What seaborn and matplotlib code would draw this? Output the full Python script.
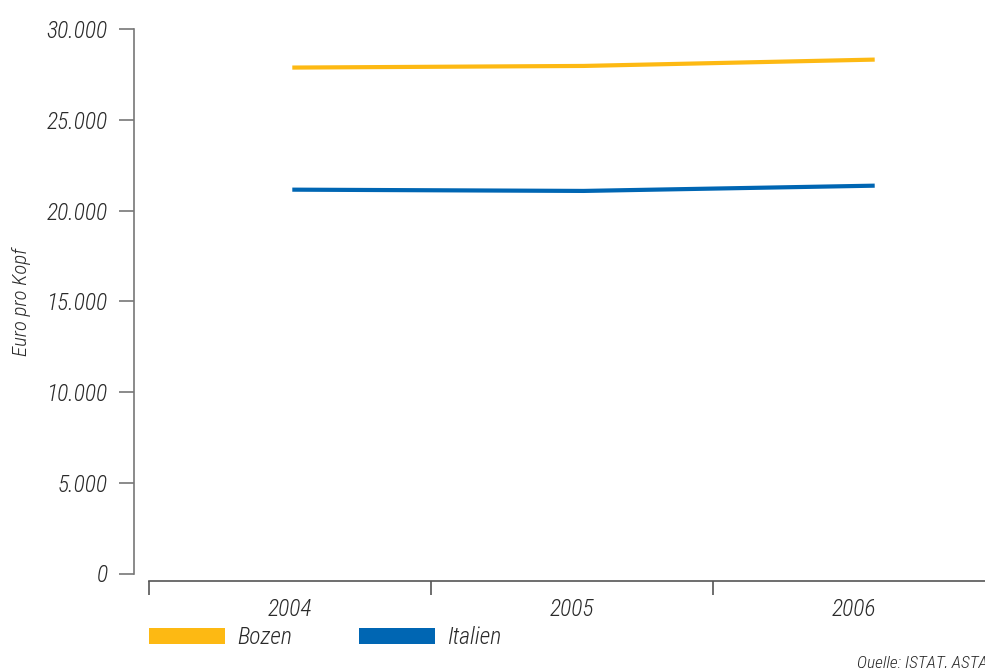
import matplotlib
matplotlib.use("Agg")
import matplotlib.pyplot as plt
from matplotlib.patches import Patch
from matplotlib.ticker import FuncFormatter
import seaborn as sns
import pandas as pd

# ---- data ----
years = [2004, 2005, 2006]
bozen = [27890, 27980, 28330]
italien = [21160, 21090, 21380]
series_names = ["Bozen", "Italien"]
y_ticks = [0, 5000, 10000, 15000, 20000, 25000, 30000]
source_text = "Quelle: ISTAT, ASTAT"
y_label = "Euro pro Kopf"

colors = {"Bozen": "#FDB913", "Italien": "#0066B3"}

df = pd.DataFrame({
    "Jahr": years * 2,
    "Wert": bozen + italien,
    "Serie": ["Bozen"] * 3 + ["Italien"] * 3,
})

sns.set_style("white")
FONT = ["Liberation Sans Narrow", "DejaVu Sans Condensed", "Roboto Condensed",
        "Roboto", "DejaVu Sans"]
plt.rcParams["font.family"] = FONT
plt.rcParams["font.style"] = "italic"
plt.rcParams["font.weight"] = "light"
plt.rcParams["axes.labelweight"] = "light"
TXT = "#2a2a2a"

W, H = 985, 668
fig = plt.figure(figsize=(W / 100, H / 100), dpi=100)

# main axes: y spine at x=134, 30000 at y=29.3, 0 at y=573.5
left_px, top_px, bot_px = 134, 29.3, 573.5
ax = fig.add_axes([left_px / W, 1 - bot_px / H, 1 - left_px / W, (bot_px - top_px) / H])
sns.lineplot(data=df, x="Jahr", y="Wert", hue="Serie", palette=colors,
             linewidth=3.0, ax=ax, legend=False)
for ln in ax.get_lines():
    ln.set_solid_capstyle("butt")
    ln.set_solid_joinstyle("round")

px_per_year = (874.7 - 292.3) / 2
ax.set_xlim(2004 - (292.3 - left_px) / px_per_year, 2006 + (W - 874.7) / px_per_year)
ax.set_ylim(0, 30000)
ax.set_yticks(y_ticks)
ax.yaxis.set_major_formatter(FuncFormatter(lambda v, p: f"{int(v):,}".replace(",", ".")))
ax.set_xticks([])
ax.set_xlabel("")
ax.set_ylabel(y_label, fontsize=15, color=TXT, style="italic", fontweight="light")
ax.yaxis.set_label_coords(-(left_px - 31) / (W - left_px), 0.5)
for s in ["top", "right", "bottom"]:
    ax.spines[s].set_visible(False)
ax.spines["left"].set_color("#777777")
ax.spines["left"].set_linewidth(1.2)
ax.tick_params(axis="y", left=True, direction="out", length=11, width=1.2, color="#777777",
               pad=8, labelsize=17, labelcolor=TXT)
for t in ax.get_yticklabels():
    t.set_style("italic")

# separate category axis: spine at y=581, boundary ticks at 149, 431, 713
ax2 = fig.add_axes([149 / W, 1 - 581 / H, 1 - 149 / W, 0.001])
ax2.patch.set_visible(False)
ax2.set_xlim(-0.5, -0.5 + (W - 149) / 282)
ax2.set_ylim(0, 1)
ax2.set_yticks([])
for s in ["top", "right", "left"]:
    ax2.spines[s].set_visible(False)
ax2.spines["bottom"].set_color("#555555")
ax2.spines["bottom"].set_linewidth(1.2)
ax2.set_xticks([-0.5, 0.5, 1.5])
ax2.set_xticklabels([])
ax2.tick_params(axis="x", which="major", bottom=True, direction="out", length=10,
                width=1.2, color="#555555")
ax2.set_xticks([0, 1, 2], minor=True)
ax2.set_xticklabels([str(y) for y in years], minor=True, style="italic")
ax2.tick_params(axis="x", which="minor", bottom=True, length=0, pad=12, labelsize=17,
                labelcolor=TXT)

# legend
fs_px = 17 * 100 / 72
handles = [Patch(facecolor=colors[n], edgecolor="none", label=n) for n in series_names]
fig.legend(handles=handles, loc="center left", bbox_to_anchor=(149 / W, 1 - 638 / H),
           ncol=2, frameon=False, borderpad=0, borderaxespad=0,
           handlelength=76 / fs_px, handleheight=16 / fs_px, handletextpad=12 / fs_px,
           columnspacing=67 / fs_px, labelcolor=TXT,
           prop={"style": "italic", "size": 17, "weight": "light"})

fig.text(857 / W, 1 - 663 / H, source_text, fontsize=12.5, color=TXT,
         ha="left", va="center", style="italic")

fig.savefig("out.png", dpi=100)
